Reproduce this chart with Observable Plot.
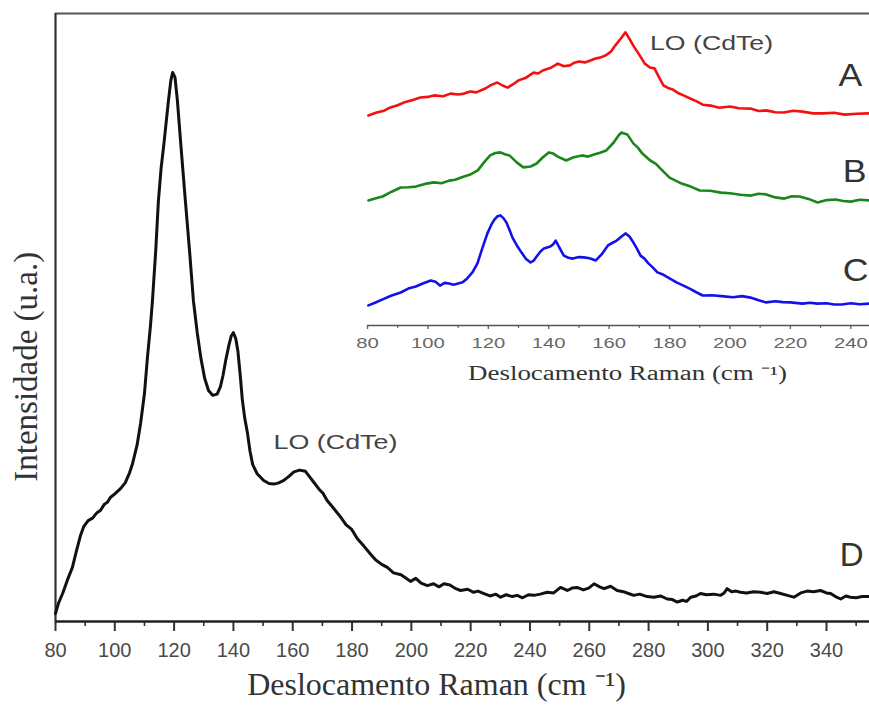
<!DOCTYPE html>
<html>
<head>
<meta charset="utf-8">
<script src="https://cdn.jsdelivr.net/npm/d3@7"></script>
<script src="https://cdn.jsdelivr.net/npm/@observablehq/plot@0.6"></script>
<style>
  html, body { margin: 0; padding: 0; background: #fff; }
  #chart { position: relative; width: 869px; height: 716px; overflow: hidden; }
</style>
</head>
<body>
<div id="chart"></div>
<script>
// Raman spectrum D (main panel): [Raman shift (cm-1), intensity (a.u.)]
const spectrumD = [
  [80,1.3],[81,3.0],[82.4,4.6],[84,6.8],[85.7,8.9],[87,11.5],[88.4,14.1],[89.5,15.6],[91,16.6],[92.5,17.0],
  [94,17.9],[95.2,18.3],[96.5,19.3],[97.5,19.6],[98.5,20.4],[100,21.0],[102,21.9],[103.5,22.8],[105,24.5],[106,26.0],
  [107.5,29.0],[108.7,32.6],[110,37.5],[111,43.4],[112,48.5],[112.7,52.8],[113.8,61.0],[114.7,69.2],[115.6,74.5],[116.5,78.3],
  [117.3,82.0],[118.1,85.7],[118.9,89.0],[119.5,90.3],[120.3,89.5],[121.1,85.7],[122.5,77.0],[123.8,69.2],[125.2,61.0],[126.5,52.8],
  [127.8,47.5],[129,43.4],[130.3,40.0],[131.6,38.0],[133,37.2],[134.5,37.4],[135.6,38.6],[136.5,40.5],[137.5,43.2],[138.5,45.5],
  [139.3,47.0],[140,47.5],[140.8,46.5],[141.5,44.5],[142.3,40.5],[143,36.5],[143.8,33.5],[144.7,31.1],[145.6,28.0],[146.5,25.8],
  [148,24.3],[150.2,23.2],[152,22.7],[153.6,22.6],[155.3,22.8],[157,23.2],[158.8,23.9],[160.4,24.6],[162.3,24.9],[164.3,24.7],
  [165.7,23.8],[167.1,22.9],[168.8,21.8],[170.2,21.1],[171.6,19.9],[173.5,18.8],[176.1,17.2],[178,15.9],[179.8,15.2],[181.8,13.6],
  [184,12.4],[186.2,11.1],[188,10.1],[190,9.4],[191.9,8.9],[194,8.0],[196.5,7.7],[198,7.2],[199.7,6.6],[201.5,7.1],
  [203.3,6.3],[205.4,5.9],[207.5,6.2],[209.3,5.7],[211,6.2],[213,6.0],[215,5.4],[216.6,5.1],[219,5.3],[221,4.8],
  [222.5,5.0],[224.5,4.6],[226.5,4.2],[228.5,4.5],[230.1,4.0],[232,4.4],[234,4.1],[235.7,4.3],[237.5,3.9],[239.5,4.4],
  [241.3,4.3],[243.5,4.5],[245.8,4.8],[248,4.7],[250.3,5.6],[252.6,5.1],[254.2,5.5],[255.9,5.6],[258,5.2],[259.8,5.5],
  [261.6,6.2],[263.5,5.7],[265,5.4],[267.2,5.8],[269.4,5.1],[271.5,4.9],[273.2,4.6],[275,4.3],[277,4.5],[279.5,4.1],
  [281.8,4.0],[284,4.2],[286.3,3.7],[288,3.6],[289.7,3.2],[291.5,3.5],[292.8,3.3],[294.2,4.0],[296,4.2],[297.5,4.6],
  [299.5,4.4],[302,4.5],[304.3,4.3],[305.5,4.7],[306.5,5.4],[308,4.9],[309.5,5.0],[311,4.8],[313,4.7],[315.5,4.9],
  [317.8,4.8],[320,4.6],[322.3,4.9],[324.5,4.6],[326.8,4.3],[329,4.0],[331.3,4.7],[333.5,5.0],[335.6,4.9],[338,5.1],
  [340,4.7],[341.4,4.6],[343,4.1],[344.8,3.7],[346.5,4.2],[348.1,4.0],[350,3.9],[352,4.1],[354.5,4.1]
];

// Inset spectra A, B, C (stacked, offset intensities)
const spectrumA = [
  [80.3,70.0],[83,71.0],[85.5,71.6],[87.6,72.7],[90,73.4],[92,74.3],[95,75.2],[97.5,76.0],[100,76.2],[102,76.7],
  [105,76.4],[107.5,77.3],[110,77.0],[112,77.3],[114,78.0],[116,77.7],[119,79.0],[121,80.2],[123,81.0],[124.7,80.0],
  [126.4,79.3],[128.5,80.6],[130,81.7],[132.5,82.6],[135,84.3],[136.5,84.0],[138,85.0],[140.5,85.8],[143,87.3],[145,86.4],
  [147,86.7],[148.5,87.6],[150,88.0],[152,87.7],[154,88.4],[155.5,89.0],[157,89.3],[158.8,90.0],[160.5,91.2],[162,93.3],
  [163.8,95.6],[165.4,97.7],[166.7,95.6],[168,93.3],[170,90.2],[171.8,87.3],[173.5,86.0],[175,85.7],[176.5,82.8],[178,80.0],
  [179.5,79.2],[181,78.7],[183,77.4],[184.6,76.7],[187,75.6],[189,74.7],[191,73.6],[193.6,73.3],[196.5,72.6],[200,73.0],
  [203,72.4],[206.8,72.3],[209.5,71.5],[212,71.7],[215,71.1],[217.8,71.0],[221,71.6],[224,71.3],[227.5,70.7],[231,70.7],
  [234.5,70.9],[238,70.3],[242,70.6],[246.2,70.7]
];
const spectrumB = [
  [80.3,41.7],[82.5,42.3],[85,43.0],[88,44.6],[91,46.0],[93.5,46.1],[96,46.3],[99,47.2],[102,47.7],[104.5,47.4],
  [107,48.3],[109,48.6],[111,49.3],[114,50.3],[116.5,51.7],[118.5,54.3],[120.6,56.7],[122.3,57.5],[124,57.7],[125.5,57.1],
  [127,56.7],[129.5,54.3],[131.6,52.7],[134,53.0],[136,54.0],[138,56.0],[140,57.7],[141.5,57.3],[143,56.3],[145.8,55.0],
  [148,56.0],[151,56.7],[153,56.3],[155,57.0],[157,57.6],[159,58.3],[161.5,61.0],[163,63.2],[164,64.3],[166,63.7],
  [168,60.7],[169.5,59.3],[171,57.3],[173.6,55.0],[175.5,53.9],[177,52.3],[180,49.3],[182,48.3],[184,47.3],[187,46.3],
  [190,45.0],[193.5,44.9],[197,44.3],[200,44.1],[203.5,43.6],[207,43.3],[209.5,43.9],[212,43.7],[215,42.7],[218,42.3],
  [220.5,43.1],[223,43.0],[226,42.2],[229,41.0],[232,41.8],[235,42.0],[237.5,41.5],[240,41.3],[243,41.9],[246.2,41.7]
];
const spectrumC = [
  [80.3,6.7],[82.5,7.6],[85,8.7],[88,10.0],[91,11.0],[93.5,12.3],[96,13.0],[98.5,14.1],[101,15.0],[102.5,14.6],
  [104,13.3],[105.5,14.2],[107,14.0],[108.5,13.6],[110,14.0],[111.5,14.4],[113,15.7],[114.8,17.8],[116.4,20.7],[118,25.7],
  [119.7,30.7],[121,33.6],[122,35.3],[123,36.4],[124,36.7],[125,35.8],[126,34.3],[127,31.9],[128,29.3],[129.5,26.6],
  [131,24.3],[132.5,22.2],[134,21.0],[135,21.6],[136,23.0],[137.2,24.6],[138.4,25.7],[140.5,26.3],[141.5,27.1],[142.3,28.3],
  [143.5,26.0],[145,23.3],[146.5,22.6],[148,22.3],[150,22.8],[151.6,22.7],[153.5,22.4],[155.6,21.7],[157.5,23.7],[159.6,26.7],
  [161,27.5],[162.5,28.3],[164,29.6],[165.5,30.7],[166.8,29.6],[168,27.7],[169.2,25.6],[170.4,23.3],[171.7,22.3],[173,20.7],
  [174.5,19.3],[176,17.7],[178,16.9],[180,15.7],[182.3,14.4],[184.6,13.3],[187,12.1],[189,11.0],[191,10.0],[194,10.1],
  [198,9.7],[201,9.4],[204,9.8],[206.8,9.3],[209.5,8.4],[212,7.7],[215,8.1],[217.5,7.8],[220,7.7],[224,7.3],
  [226.5,7.6],[229,7.3],[232,7.4],[234.5,7.0],[237,7.0],[240,7.4],[243,7.1],[246.2,7.3]
];

// Axis ticks
const mainMajorTicks = [80, 100, 120, 140, 160, 180, 200, 220, 240, 260, 280, 300, 320, 340];
const mainMinorTicks = [90, 110, 130, 150, 170, 190, 210, 230, 250, 270, 290, 310, 330, 350];
const insetMajorTicks = [80, 100, 120, 140, 160, 180, 200, 220, 240];
const insetMinorTicks = [90, 110, 130, 150, 170, 190, 210, 230];

// Annotations
const mainCurveLabels = [{x: 348.5, y: 10.9, text: "D"}];
const mainPeakLabels = [{x: 174.4, y: 29.4, text: "LO (CdTe)"}];
const insetCurveLabels = [
  {x: 239.9, y: 83.3, text: "A"},
  {x: 241.3, y: 51.3, text: "B"},
  {x: 241.6, y: 18.0, text: "C"}
];
const insetPeakLabels = [{x: 193.9, y: 94.0, text: "LO (CdTe)"}];
const yTitleAt = [{x: 80, y: 41.9}];
const xTitle = "Deslocamento Raman (cm \u207B\u00B9)";
const yTitle = "Intensidade (u.a.)";

const SANS = "'Liberation Sans', Arial, sans-serif";
const SERIF = "'Liberation Serif', 'Times New Roman', serif";
const px = d => d[0];
const py = d => d[1];
const tag = name => () => name;

const main = Plot.plot({
  width: 869,
  height: 716,
  marginLeft: 55,
  marginRight: 0,
  marginTop: 13,
  marginBottom: 95,
  style: {background: "transparent", fontFamily: SANS, overflow: "visible"},
  x: {domain: [80, 354.5]},
  y: {domain: [0, 100], axis: null},
  marks: [
    Plot.ruleY([100], {stroke: "#555", strokeWidth: 2}),
    Plot.ruleX([80], {stroke: "#333", strokeWidth: 2.2}),
    Plot.axisX({ticks: mainMinorTicks, tickSize: 5, tickFormat: () => "", stroke: "#333", strokeWidth: 1.6, label: null}),
    Plot.axisX({ticks: mainMajorTicks, tickSize: 10, tickPadding: 11, fontSize: 20, fill: "#4a4a4a", stroke: "#333", strokeWidth: 2, label: null}),
    Plot.ruleY([0], {stroke: "#222", strokeWidth: 2.4}),
    Plot.line(spectrumD, {x: px, y: py, stroke: "#111", strokeWidth: 3}),
    Plot.text(mainCurveLabels, {x: "x", y: "y", text: "text", fontSize: 33, fill: "#333", fontFamily: SANS}),
    Plot.text(mainPeakLabels, {x: "x", y: "y", text: "text", fontSize: 21, fill: "#444", fontFamily: SANS, ariaLabel: tag("peak label")}),
    Plot.text([xTitle], {frameAnchor: "bottom", dx: -26, dy: 73, fontSize: 32, fill: "#333", fontFamily: SERIF}),
    Plot.text(yTitleAt, {x: "x", y: "y", text: () => yTitle, rotate: -90, dx: -29, fontSize: 33, fill: "#333", fontFamily: SERIF})
  ]
});

const inset = Plot.plot({
  width: 509,
  height: 400,
  marginLeft: 7,
  marginRight: 0,
  marginTop: 25,
  marginBottom: 75,
  style: {background: "transparent", fontFamily: SANS, overflow: "visible"},
  x: {domain: [80, 246.2]},
  y: {domain: [0, 100], axis: null},
  marks: [
    Plot.axisX({ticks: insetMinorTicks, tickSize: 3, tickFormat: () => "", stroke: "#666", strokeWidth: 1.2, label: null}),
    Plot.axisX({ticks: insetMajorTicks, tickSize: 4, tickPadding: 8, fontSize: 15, fill: "#666", stroke: "#666", strokeWidth: 1.4, label: null}),
    Plot.ruleY([0], {stroke: "#555", strokeWidth: 1.6}),
    Plot.line(spectrumA, {x: px, y: py, stroke: "#f21010", strokeWidth: 2.6}),
    Plot.line(spectrumB, {x: px, y: py, stroke: "#1b861b", strokeWidth: 2.6}),
    Plot.line(spectrumC, {x: px, y: py, stroke: "#1212e8", strokeWidth: 2.6}),
    Plot.text(insetCurveLabels, {x: "x", y: "y", text: "text", fontSize: 31, fill: "#333", fontFamily: SANS, ariaLabel: tag("curve label")}),
    Plot.text(insetPeakLabels, {x: "x", y: "y", text: "text", fontSize: 21, fill: "#444", fontFamily: SANS, ariaLabel: tag("peak label")}),
    Plot.text([xTitle], {frameAnchor: "bottom", dx: 9, dy: 54, fontSize: 20, fill: "#333", fontFamily: SERIF, ariaLabel: tag("x title")})
  ]
});
inset.style.position = "absolute";
inset.style.left = "360px";
inset.style.top = "0px";

const chart = document.getElementById("chart");
main.style.position = "absolute";
main.style.left = "0px";
main.style.top = "0px";
chart.appendChild(main);
chart.appendChild(inset);

// Widen text horizontally (glyphs stretched), either to a fixed length or by a factor
function setLength(texts, length) {
  texts.forEach(t => {
    t.setAttribute("textLength", length);
    t.setAttribute("lengthAdjust", "spacingAndGlyphs");
  });
}
function widen(texts, k) {
  texts.forEach(t => {
    const w = t.getComputedTextLength();
    t.setAttribute("textLength", w * k);
    t.setAttribute("lengthAdjust", "spacingAndGlyphs");
  });
}
setLength(main.querySelectorAll('text[aria-label="peak label"]'), 124);
setLength(inset.querySelectorAll('text[aria-label="peak label"]'), 123);
setLength(inset.querySelectorAll('text[aria-label="x title"]'), 319);
widen(inset.querySelectorAll('text[aria-label="curve label"]'), 1.15);
widen(inset.querySelectorAll('g[aria-label="x-axis tick label"] text'), 1.35);
</script>
</body>
</html>
